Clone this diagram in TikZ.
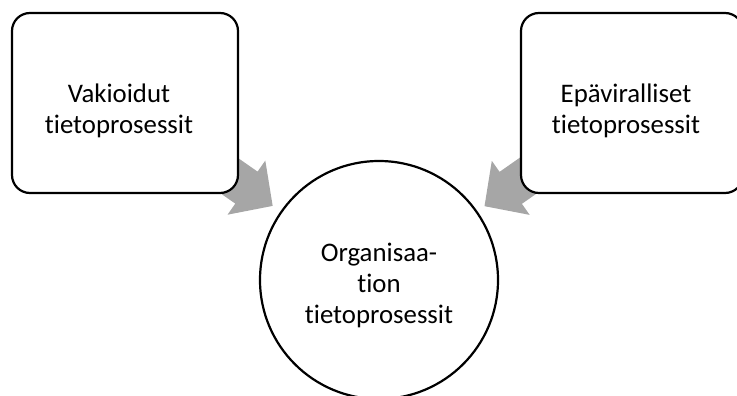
\documentclass[tikz,border=0pt]{standalone}
\usepackage{fontspec}
\setmainfont{Carlito}[RawFeature={-liga}]
\usetikzlibrary{calc,backgrounds}
\begin{document}
\begin{tikzpicture}[x=1pt,y=-1pt,
  box/.style={draw, line width=2.2pt, rounded corners=18pt, fill=white, inner sep=0pt, minimum height=180pt},
  circ/.style={draw, circle, line width=2.2pt, fill=white, inner sep=0pt, minimum size=238pt},
  txt/.style={align=center, inner sep=0pt, anchor=base, font=\fontsize{26.8}{31}\selectfont},
  arrowfill/.style={fill=black!35, draw=none}
]
\useasboundingbox (0,0) rectangle (737,396);
\node[box, minimum width=226pt] (L) at (125,103) {};
\node[box, minimum width=222pt] (R) at (632,103) {};
\node[circ] (C) at (379,280) {};
\node[txt] (Lt) at (119,133) {Vakioidut\\tietoprosessit};
\node[txt] (Rt) at (626,133) {Epäviralliset\\tietoprosessit};
\node[txt] (Ct) at (379,323) {Organisaa-\\tion\\tietoprosessit};
\begin{pgfonlayer}{background}
\coordinate (lT) at ($(L.center)!180pt!(C.center)$);
\coordinate (lB) at ($(lT)!32pt!(L.center)$);
\coordinate (lE) at ($(lT)!120pt!(L.center)$);
\fill[arrowfill] ($(lE)!19.5pt!90:(lT)$) -- ($(lB)!19.5pt!90:(lT)$) -- ($(lB)!33pt!90:(lT)$) -- (lT)
  -- ($(lB)!33pt!-90:(lT)$) -- ($(lB)!19.5pt!-90:(lT)$) -- ($(lE)!19.5pt!-90:(lT)$) -- cycle;
\coordinate (rT) at ($(R.center)!180pt!(C.center)$);
\coordinate (rB) at ($(rT)!32pt!(R.center)$);
\coordinate (rE) at ($(rT)!120pt!(R.center)$);
\fill[arrowfill] ($(rE)!19.5pt!90:(rT)$) -- ($(rB)!19.5pt!90:(rT)$) -- ($(rB)!33pt!90:(rT)$) -- (rT)
  -- ($(rB)!33pt!-90:(rT)$) -- ($(rB)!19.5pt!-90:(rT)$) -- ($(rE)!19.5pt!-90:(rT)$) -- cycle;
\end{pgfonlayer}
\end{tikzpicture}
\end{document}
